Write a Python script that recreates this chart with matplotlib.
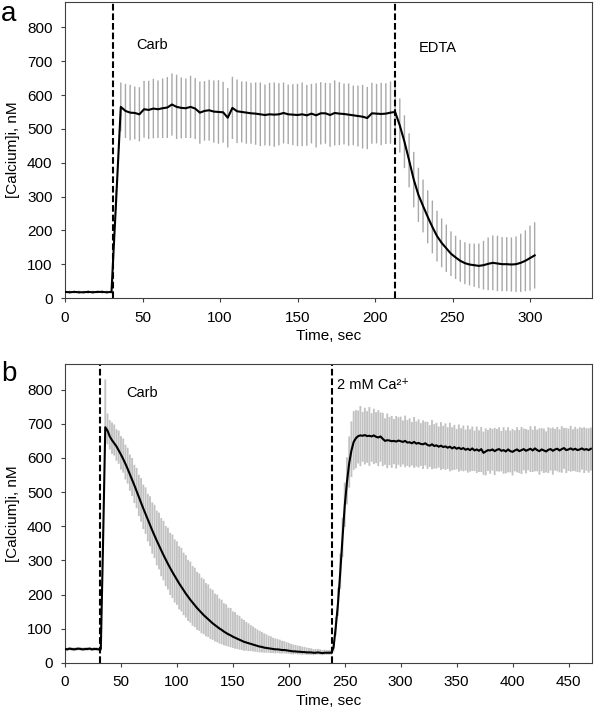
import matplotlib
matplotlib.use("Agg")
import matplotlib.pyplot as plt
import numpy as np

plt.rcParams["font.family"] = ["Liberation Sans", "DejaVu Sans"]
plt.rcParams["font.size"] = 11

# ---- panel a: Carb then EDTA, one point every 3 s ----
time_a = np.arange(0, 304, 3)
mean_a = [
    18, 17, 18, 17, 17, 18, 17, 18, 18, 17,
    18, 290, 565, 553, 548, 547, 543, 558, 556, 560,
    558, 561, 563, 572, 565, 562, 561, 565, 560, 548,
    553, 555, 551, 550, 549, 533, 562, 552, 550, 548,
    546, 545, 543, 541, 543, 542, 543, 547, 543, 542,
    541, 543, 540, 545, 540, 546, 546, 541, 547, 545,
    544, 542, 540, 538, 536, 532, 546, 545, 544, 545,
    548, 550, 510, 462, 407, 350, 305, 272, 240, 210,
    183, 163, 147, 131, 120, 110, 103, 99, 97, 95,
    97, 101, 104, 102, 100, 100, 99, 100, 104, 110,
    118, 126,
]
sd_a = [
    5, 5, 4, 5, 4, 5, 5, 4, 5, 5,
    5, 30, 72, 80, 82, 78, 80, 84, 86, 88,
    85, 88, 90, 92, 95, 90, 88, 92, 90, 92,
    88, 90, 92, 94, 90, 88, 92, 94, 90, 92,
    90, 92, 94, 90, 93, 95, 92, 90, 88, 90,
    92, 94, 90, 88, 95, 92, 90, 94, 96, 93,
    90, 92, 88, 90, 94, 92, 90, 88, 92, 90,
    92, 85, 80, 78, 80, 82, 80, 78, 78, 78,
    75, 72, 70, 66, 64, 62, 62, 62, 64, 66,
    72, 78, 81, 82, 80, 80, 80, 82, 86, 90,
    96, 98,
]
events_a = [31, 213]
event_labels_a = ["Carb", "EDTA"]
label_pos_a = [(46, 748), (228, 738)]

# ---- panel b: Carb then 2 mM Ca2+, one point every 2 s ----
time_b = np.arange(0, 471, 2)
mean_b = [
    41, 40, 42, 41, 40, 41, 42, 41, 40, 41,
    41, 42, 40, 41, 41, 40, 41, 350, 690, 680,
    663, 652, 643, 634, 622, 610, 597, 583, 568, 552,
    536, 520, 503, 486, 469, 452, 436, 420, 404, 388,
    373, 358, 344, 330, 316, 303, 290, 278, 266, 255,
    244, 233, 223, 213, 203, 194, 185, 177, 169, 161,
    154, 147, 140, 134, 128, 122, 116, 111, 106, 101,
    97, 92, 88, 84, 81, 77, 74, 71, 68, 65,
    62, 60, 58, 56, 54, 52, 50, 48, 47, 45,
    44, 43, 42, 41, 40, 40, 39, 38, 38, 37,
    36, 35, 34, 34, 33, 33, 32, 32, 31, 31,
    31, 30, 30, 31, 30, 29, 30, 30, 30, 30,
    45, 105, 175, 265, 365, 460, 530, 585, 622, 647,
    658, 664, 666, 665, 667, 664, 665, 663, 666, 662,
    660, 663, 656, 650, 652, 651, 649, 650, 648, 651,
    649, 647, 650, 645, 646, 643, 647, 642, 644, 641,
    640, 643, 638, 636, 640, 635, 637, 633, 636, 632,
    634, 630, 633, 628, 632, 627, 630, 626, 629, 624,
    627, 623, 628, 622, 625, 621, 626, 615, 619, 623,
    622, 625, 620, 624, 626, 621, 623, 619, 625, 620,
    618, 622, 625, 620, 623, 626, 621, 624, 627, 622,
    628, 623, 620, 625, 622, 619, 624, 626, 621, 625,
    627, 622, 626, 629, 623, 625, 628, 624, 627, 623,
    625, 628, 624, 626, 623, 627,
]
err_up_b = [
    5, 5, 5, 5, 5, 5, 5, 5, 5, 5,
    5, 5, 5, 5, 5, 5, 5, 40, 140, 50,
    48, 52, 55, 50, 58, 54, 60, 56, 62, 58,
    64, 60, 68, 65, 72, 70, 78, 75, 84, 82,
    90, 88, 96, 94, 100, 98, 106, 103, 110, 107,
    112, 109, 114, 110, 113, 108, 112, 107, 110, 106,
    108, 103, 106, 100, 102, 96, 98, 92, 94, 88,
    88, 83, 84, 78, 80, 74, 75, 70, 70, 65,
    64, 60, 58, 55, 53, 50, 48, 46, 44, 42,
    40, 37, 36, 33, 32, 30, 29, 27, 26, 24,
    23, 21, 20, 19, 18, 17, 16, 15, 14, 13,
    12, 11, 11, 10, 10, 9, 9, 8, 8, 8,
    15, 30, 45, 55, 60, 68, 72, 78, 85, 90,
    82, 75, 86, 70, 80, 73, 84, 68, 78, 72,
    80, 70, 76, 66, 78, 69, 74, 64, 75, 68,
    72, 63, 74, 66, 70, 62, 73, 65, 69, 61,
    70, 63, 68, 60, 71, 64, 66, 59, 69, 62,
    67, 60, 70, 62, 65, 58, 68, 61, 66, 59,
    68, 61, 64, 58, 67, 60, 65, 62, 68, 59,
    66, 60, 68, 61, 64, 58, 67, 62, 65, 60,
    67, 59, 65, 62, 68, 60, 64, 58, 66, 61,
    65, 60, 67, 62, 64, 59, 66, 61, 68, 60,
    64, 62, 67, 59, 65, 61, 66, 60, 64, 62,
    65, 60, 66, 61, 64, 62,
]
err_down_b = [
    5, 5, 5, 5, 5, 5, 5, 5, 5, 5,
    5, 5, 5, 5, 5, 5, 5, 30, 45, 40,
    38, 40, 36, 42, 39, 44, 40, 46, 43, 48,
    47, 52, 50, 56, 55, 60, 58, 64, 62, 68,
    66, 72, 70, 76, 74, 78, 75, 79, 76, 78,
    74, 76, 72, 73, 70, 71, 67, 68, 64, 64,
    60, 60, 56, 56, 52, 52, 48, 48, 45, 44,
    42, 40, 38, 36, 35, 33, 32, 30, 29, 27,
    26, 24, 23, 21, 20, 19, 18, 17, 16, 15,
    14, 13, 13, 12, 12, 11, 11, 10, 10, 10,
    9, 9, 9, 8, 8, 8, 8, 7, 7, 7,
    7, 7, 6, 6, 6, 6, 6, 6, 6, 6,
    12, 25, 38, 48, 55, 62, 66, 72, 78, 82,
    88, 80, 90, 76, 86, 78, 88, 74, 84, 77,
    84, 74, 80, 70, 82, 72, 78, 68, 79, 71,
    75, 66, 77, 68, 73, 65, 76, 67, 72, 64,
    72, 65, 70, 62, 73, 66, 68, 61, 71, 64,
    69, 62, 72, 64, 67, 60, 70, 63, 68, 61,
    70, 63, 66, 60, 69, 62, 67, 64, 70, 61,
    68, 62, 70, 63, 66, 60, 69, 64, 67, 62,
    69, 61, 67, 64, 70, 62, 66, 60, 68, 63,
    67, 62, 69, 64, 66, 61, 68, 63, 70, 62,
    66, 64, 69, 61, 67, 63, 68, 62, 66, 64,
    67, 62, 68, 63, 66, 64,
]
events_b = [31, 239]
event_labels_b = ["Carb", "2 mM Ca²⁺"]
label_pos_b = [(55, 791), (243, 815)]

AXIS_GRAY = "#404040"


def draw_panel(ax, t, mean, yerr, bar_color, bar_width, events, labels, label_pos,
               xlim, xticks):
    bars = ax.errorbar(t, mean, yerr=yerr, fmt="none", ecolor=bar_color,
                       elinewidth=bar_width, capsize=0, zorder=1)
    for coll in bars[2]:
        coll.set_snap(False)
    for x in events:
        ax.axvline(x, color="black", linewidth=1.5, linestyle=(0, (3.2, 1.4)), zorder=2)
    ax.plot(t, mean, color="black", linewidth=1.5, zorder=3)
    for text, (x, y) in zip(labels, label_pos):
        ax.text(x, y, text, ha="left", va="center", fontsize=10.5)

    ax.set_xlim(*xlim)
    ax.set_ylim(0, 875)
    ax.set_xticks(xticks)
    ax.set_yticks(np.arange(0, 801, 100))
    ax.set_xlabel("Time, sec", labelpad=3)
    ax.set_ylabel("[Calcium]i, nM", labelpad=5)
    ax.tick_params(direction="out", length=3, width=0.8, color=AXIS_GRAY, pad=6)
    for spine in ax.spines.values():
        spine.set_color(AXIS_GRAY)
        spine.set_linewidth(0.8)


fig = plt.figure(figsize=(6.0, 7.12), dpi=100)
ax_a = fig.add_axes([65 / 600, 1 - 298 / 712, 527 / 600, 296 / 712])
ax_b = fig.add_axes([65 / 600, 1 - 663 / 712, 527 / 600, 299 / 712])

draw_panel(ax_a, time_a, mean_a, sd_a, "#a8a8a8", 1.0, events_a, event_labels_a,
           label_pos_a, (0, 340), np.arange(0, 301, 50))
draw_panel(ax_b, time_b, mean_b, [err_down_b, err_up_b], "#c2c2c2", 1.35, events_b,
           event_labels_b, label_pos_b, (0, 471), np.arange(0, 451, 50))

fig.text(0.002, 1 - 14 / 712, "a", fontsize=20, ha="left", va="center")
fig.text(0.002, 1 - 374 / 712, "b", fontsize=20, ha="left", va="center")

fig.savefig("out.png", dpi=100)
